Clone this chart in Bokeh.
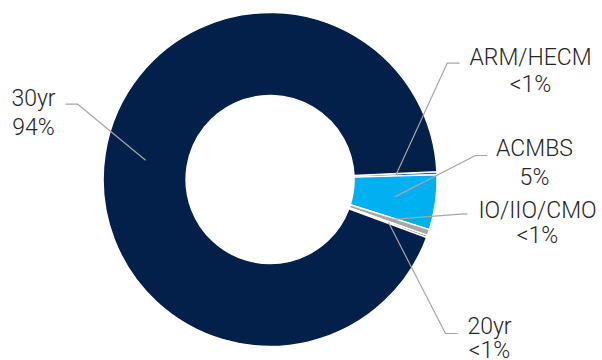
import numpy as np
from bokeh.plotting import figure
from bokeh.models import Range1d, ColumnDataSource
from bokeh.core.properties import value
from bokeh.embed import file_html
from bokeh.resources import INLINE

# ---- data ----
categories = ["ARM/HECM", "ACMBS", "IO/IIO/CMO", "20yr", "30yr"]
shares = [0.3, 5.3, 0.6, 0.2, 93.6]          # percent
pct_labels = ["<1%", "5%", "<1%", "<1%", "94%"]

# ---- style / layout ----
colors = ["#2a5caa", "#00b0f0", "#a6a6a6", "#0b2a5b", "#03204a"]
W, H = 602, 360
PAGE_H = 360
cx, cy = 269.6, PAGE_H - 179.0        # donut centre (data units = pixels)
r_out, r_in = 167, 84
start_deg = 2.7                        # top edge of first slice, slices go clockwise
font = value("Roboto Light")

# label layout: (centre x, baseline page-y line1, baseline page-y line2,
#                leader text end (x, page-y), leader elbow (x, page-y))
label_layout = {
    "ARM/HECM":   (530, 57.3, 84.3, (459, 62.7), (446.7, 62.7)),
    "ACMBS":      (534, 148.3, 177.3, (486.7, 155), (475, 155)),
    "IO/IIO/CMO": (537, 210, 235, (467, 213.3), (460, 213.6)),
    "20yr":       (489, 326.0, 350.0, (457.3, 333.0), (445, 333.0)),
    "30yr":       (33, 98.3, 126.7, (65, 103.7), (77.3, 103.7)),
}

shares_arr = np.array(shares, dtype=float)
widths = shares_arr / shares_arr.sum() * 360.0
tops = start_deg - np.concatenate([[0], np.cumsum(widths)[:-1]])
bottoms = tops - widths
mids = (tops + bottoms) / 2.0

src = ColumnDataSource(dict(
    start=np.deg2rad(bottoms), end=np.deg2rad(tops),
    color=colors, cat=categories,
))

p = figure(width=W, height=H, output_backend="svg", toolbar_location=None,
           x_range=Range1d(0, W), y_range=Range1d(PAGE_H - H, PAGE_H),
           min_border=0)
p.axis.visible = False
p.grid.visible = False
p.outline_line_color = None
p.background_fill_color = "white"

p.annular_wedge(x=cx, y=cy, inner_radius=r_in, outer_radius=r_out,
                inner_radius_units="screen", outer_radius_units="screen",
                start_angle="start", end_angle="end", direction="anticlock",
                fill_color="color", line_color="white", line_width=1.5,
                source=src)

# leader lines
r_mid = 126
xs, ys = [], []
tx, ty1, ty2, tt1, tt2 = [], [], [], [], []
for cat, pct, m in zip(categories, pct_labels, mids):
    lx, b1, b2, tend, elbow = label_layout[cat]
    ix = cx + r_mid * np.cos(np.deg2rad(m))
    iy = cy + r_mid * np.sin(np.deg2rad(m))
    xs.append([tend[0], elbow[0], ix])
    ys.append([PAGE_H - tend[1], PAGE_H - elbow[1], iy])
    tx.append(lx)
    ty1.append(PAGE_H - b1)
    ty2.append(PAGE_H - b2)
    tt1.append(cat)
    tt2.append(pct)

p.multi_line(xs=xs, ys=ys, line_color="#a6a6a6", line_width=1.2)

for yy, tt in ((ty1, tt1), (ty2, tt2)):
    p.text(x=tx, y=yy, text=tt, text_align="center", text_baseline="alphabetic",
           text_font=font, text_font_size="23px", text_color="#262626")

open("out.html", "w").write(file_html(p, INLINE))
